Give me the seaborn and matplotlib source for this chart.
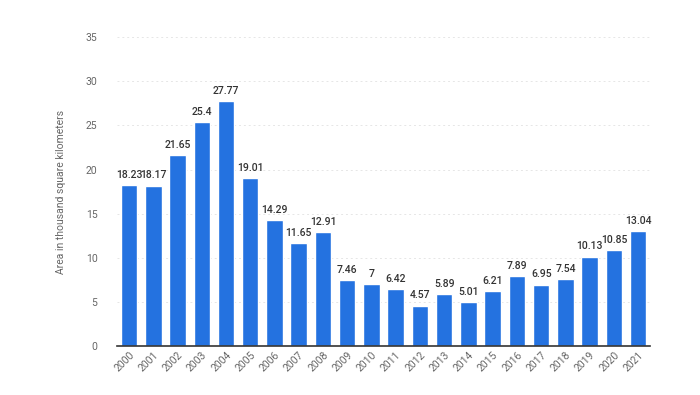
import matplotlib
matplotlib.use('Agg')
import matplotlib.pyplot as plt
import seaborn as sns
import pandas as pd

years = [str(y) for y in range(2000, 2022)]
area = [18.23, 18.17, 21.65, 25.4, 27.77, 19.01, 14.29, 11.65, 12.91, 7.46,
        7, 6.42, 4.57, 5.89, 5.01, 6.21, 7.89, 6.95, 7.54, 10.13, 10.85, 13.04]
value_labels = ['18.23', '18.17', '21.65', '25.4', '27.77', '19.01', '14.29',
                '11.65', '12.91', '7.46', '7', '6.42', '4.57', '5.89', '5.01',
                '6.21', '7.89', '6.95', '7.54', '10.13', '10.85', '13.04']

df = pd.DataFrame({'year': years, 'area': area})

sns.set_style('white')
plt.rcParams['font.family'] = ['Roboto', 'DejaVu Sans']

fig = plt.figure(figsize=(7, 3.95), dpi=100)
ax = fig.add_axes([0.167, 0.124, 0.762, 0.782])

sns.barplot(data=df, x='year', y='area', color='#2472e0', width=0.68,
            saturation=1, ax=ax, zorder=3)

# value labels on top of bars
for i, v in enumerate(area):
    ax.text(i, v + 0.6, value_labels[i], ha='center', va='bottom',
            fontsize=7.5, color='#333333', fontweight='medium')

ax.set_ylim(0, 35)
ax.set_xlim(-0.5, len(years) - 0.5)
ax.set_yticks(range(0, 36, 5))
ax.yaxis.grid(True, linestyle=(0, (2, 3)), color='#e6e6e6', linewidth=0.7,
              zorder=0)
ax.set_xlabel('')
ax.set_ylabel('Area in thousand square kilometers', fontsize=7.5,
              color='#666666', labelpad=14)
ax.tick_params(axis='y', labelsize=7.5, colors='#666666', length=0, pad=14)
ax.tick_params(axis='x', labelsize=7.5, colors='#666666', length=0, pad=3)
plt.setp(ax.get_xticklabels(), rotation=45, ha='right',
         rotation_mode='anchor')

for s in ['top', 'right', 'left']:
    ax.spines[s].set_visible(False)
ax.spines['bottom'].set_color('#333333')
ax.spines['bottom'].set_linewidth(1.2)
ax.spines['bottom'].set_zorder(4)

fig.savefig('out.png', dpi=100)
